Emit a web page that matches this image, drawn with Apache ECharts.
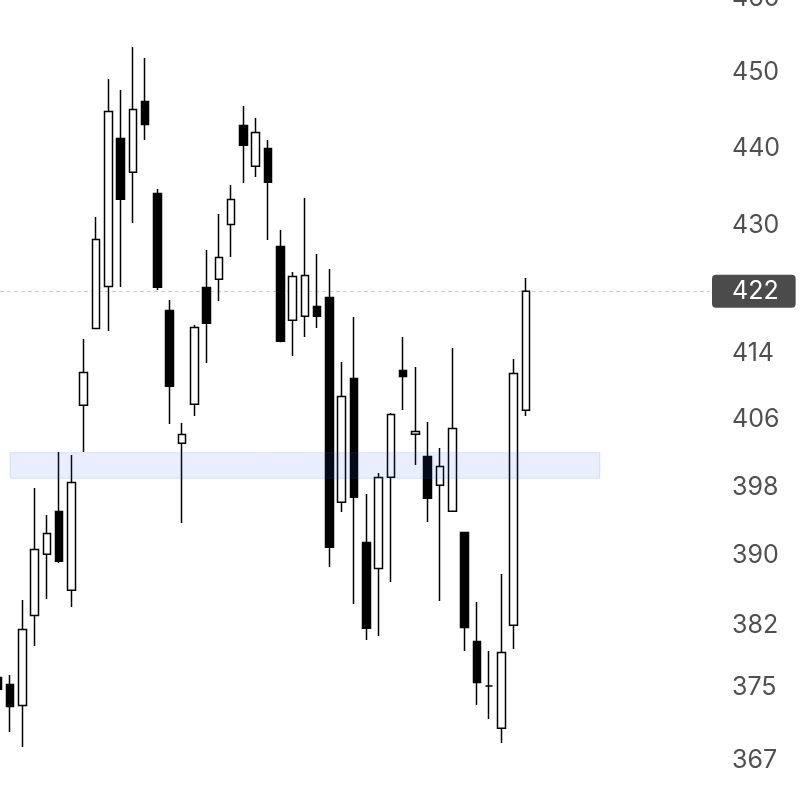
<!DOCTYPE html>
<html>
<head>
<meta charset="utf-8">
<script src="https://cdn.jsdelivr.net/npm/echarts@6/dist/echarts.min.js"></script>
<style>
html,body{margin:0;padding:0;background:#ffffff;overflow:hidden}
#chart{width:810px;height:786px}
</style>
</head>
<body>
<div id="chart"></div>
<script>
// bar positions (session index)
const bars = [0,1,2,3,4,5,6,7,8,9,10,11,12,13,14,15,16,17,18,19,20,21,22,23,24,25,26,27,28,29,30,31,32,33,34,35,36,37,38,39,40,41,42,43];
const opens = [376.16,375.38,373.07,383.15,390.14,395.12,386.00,407.75,417.15,422.37,441.27,436.88,446.14,434.15,419.36,403.18,407.87,422.22,423.25,430.20,442.98,437.66,439.97,427.39,418.14,418.64,419.85,420.97,396.20,410.99,391.51,388.52,399.14,411.97,404.26,401.61,398.20,395.14,392.67,380.19,375.22,370.54,382.02,407.14];
const closes = [374.85,372.96,381.55,390.70,392.55,389.33,398.52,411.72,428.27,444.82,433.40,445.08,443.13,422.25,410.05,404.24,417.25,417.77,425.99,433.37,440.39,442.06,435.59,415.55,423.60,423.72,418.64,390.95,408.81,396.79,381.68,399.11,406.63,411.26,404.59,396.67,400.42,404.95,381.79,375.62,375.22,378.95,411.60,421.75];
const lows = [374.40,370.15,368.51,379.69,385.01,389.15,384.11,402.16,417.05,416.83,422.30,430.38,441.09,421.92,405.50,393.78,406.46,412.89,420.55,426.07,435.51,436.29,428.22,415.45,413.75,416.09,417.20,388.69,395.07,384.45,380.37,380.82,386.96,407.19,400.61,393.90,384.79,395.06,379.13,373.12,371.57,368.94,379.36,406.46];
const highs = [376.60,376.45,384.90,397.89,394.72,402.16,401.80,415.84,431.14,449.13,447.68,453.41,451.94,434.74,420.67,405.62,417.57,426.96,431.53,435.26,445.56,443.97,441.09,429.49,424.18,433.58,426.45,424.56,413.02,418.56,397.19,399.66,406.83,416.09,412.41,405.74,402.63,414.74,392.74,384.67,379.13,387.88,413.38,423.42];

// price axis tick labels
const tickLabels = [460,450,440,430,414,406,398,390,382,375,367];

// highlighted zone (bar range and price range)
const zoneBars = [1, 49];
const zonePrices = [402.07, 399.03];

const lastClose = closes[closes.length - 1];

const data = bars.map((b, i) => [b, opens[i], closes[i], lows[i], highs[i]]);

const chart = echarts.init(document.getElementById('chart'), null, {renderer: 'canvas'});
chart.setOption({
  animation: false,
  backgroundColor: '#ffffff',
  grid: {left: 0, right: 100, top: -10, bottom: -10, containLabel: false, outerBoundsMode: 'none'},
  xAxis: {
    type: 'value',
    min: 0.186,
    max: 57.975,
    show: false,
    splitLine: {show: false}
  },
  yAxis: {
    type: 'log',
    logBase: 10,
    min: 363.19,
    max: 461.13,
    position: 'right',
    axisLine: {show: false},
    axisTick: {show: false},
    splitLine: {show: false},
    axisLabel: {
      customValues: tickLabels,
      margin: 22,
      color: '#505050',
      fontSize: 25,
      fontFamily: 'Inter',
      formatter: v => String(Math.round(v)),
      hideOverlap: false
    }
  },
  series: [{
    type: 'candlestick',
    data: data,
    encode: {x: 0, y: [1, 2, 3, 4]},
    barWidth: 8,
    clip: true,
    itemStyle: {
      color: '#ffffff',
      color0: '#000000',
      borderColor: '#000000',
      borderColor0: '#000000',
      borderColorDoji: '#000000',
      borderWidth: 1.5
    },
    emphasis: {disabled: true},
    markLine: {
      z: 1,
      silent: true,
      symbol: ['none', 'none'],
      lineStyle: {type: [4, 3], color: '#cfcfcf', width: 1.2},
      label: {
        show: true,
        position: 'end',
        distance: 2,
        formatter: p => String(Math.round(p.value)),
        color: '#ffffff',
        fontSize: 25,
        lineHeight: 25,
        fontFamily: 'Inter',
        backgroundColor: '#4b4b4b',
        borderRadius: 4,
        padding: [4, 17, 4, 20]
      },
      data: [{yAxis: lastClose}]
    },
    markArea: {
      z: 5,
      silent: true,
      label: {show: false},
      itemStyle: {
        color: 'rgba(41,98,255,0.1)',
        borderColor: 'rgba(41,98,255,0.16)',
        borderWidth: 1
      },
      data: [[{xAxis: zoneBars[0], yAxis: zonePrices[0]}, {xAxis: zoneBars[1], yAxis: zonePrices[1]}]]
    }
  }]
});
</script>
</body>
</html>
